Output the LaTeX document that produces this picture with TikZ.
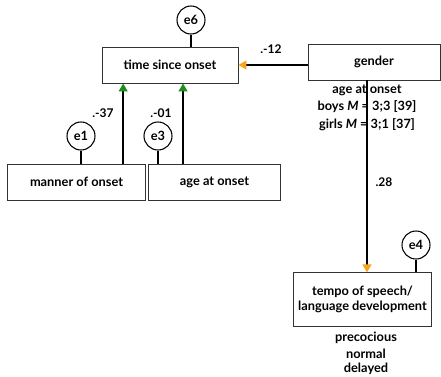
\documentclass[tikz,border=0pt]{standalone}
\usepackage{fontspec}
\setmainfont{Lato}
\usetikzlibrary{arrows.meta}
\definecolor{tiporange}{RGB}{247,165,30}
\definecolor{tipgreen}{RGB}{30,140,30}

\begin{document}
\begin{tikzpicture}[x=0.75pt, y=-0.75pt,
  every node/.style={font=\bfseries\fontsize{9.6}{11}\selectfont},
  box/.style={draw=black!80, line width=0.6pt, fill=white, align=center, inner sep=0pt, minimum height=27pt},
  err/.style={circle, draw, line width=0.8pt, minimum size=21pt, inner sep=0pt},
  coef/.style={font=\bfseries\fontsize{9}{10}\selectfont},
  link/.style={line width=1.5pt},
  orangeto/.style={link, -{Triangle[length=6pt, width=6.5pt, color=tiporange]}},
  greento/.style={link, -{Triangle[length=6pt, width=6.5pt, color=tipgreen]}}]
\useasboundingbox (0,0) rectangle (441,376);

% Boxes
\node[box, minimum width=102pt] (time) at (170,65) {time since onset};
\node[box, minimum width=99pt] (gender) at (374,62) {gender};
\node[box, minimum width=103.5pt] (manner) at (76.5,182) {manner of onset};
\node[box, minimum width=99.5pt] (age) at (214.5,182) {age at onset};
\node[box, minimum width=104pt, minimum height=40pt] (tempo) at (362.5,299.5) {tempo of speech/\\language development};

% Errors
\node[err] (e6) at (191,20) {e6};
\node[err] (e1) at (81,136) {e1};
\node[err] (e3) at (158,136) {e3};
\node[err] (e4) at (416,245) {e4};

% Texts
\node (onset) at (367,90) {age at onset};
\node (boys) at (367,107) {boys \textit{M} = 3;3 [39]};
\node (girls) at (367,125) {girls \textit{M} = 3;1 [37]};
\node (prec) at (366,338) {precocious};
\node (norm) at (366,354) {normal};
\node (del) at (366,369) {delayed};

%Lines
\draw[line width=0.8pt] (e6) -- (e6 |- time.north);
\draw[line width=0.8pt] (e1) -- (e1 |- manner.north);
\draw[line width=0.8pt] (e3) -- (e3 |- age.north);
\draw[line width=0.8pt] (e4) -- (e4 |- tempo.north);
\draw[orangeto] (time.east -| gender.west) -- (time.east);
\draw[greento] ([xshift=35pt]manner.north) -- ([xshift=35pt]manner.north |- time.south);
\draw[greento] ([xshift=-23.6pt]age.north) -- ([xshift=-23.6pt]age.north |- time.south);
\draw[orangeto] ([xshift=-5.25pt]gender.south) -- ([xshift=-5.25pt]gender.south |- tempo.north);

% Coefficients
\node[coef] (c1) at (271,49) {.-12};
\node[coef] (c2) at (103,113) {.-37};
\node[coef] (c3) at (161,113) {.-01};
\node[coef] (c4) at (384,182) {.28};
\end{tikzpicture}
\end{document}
